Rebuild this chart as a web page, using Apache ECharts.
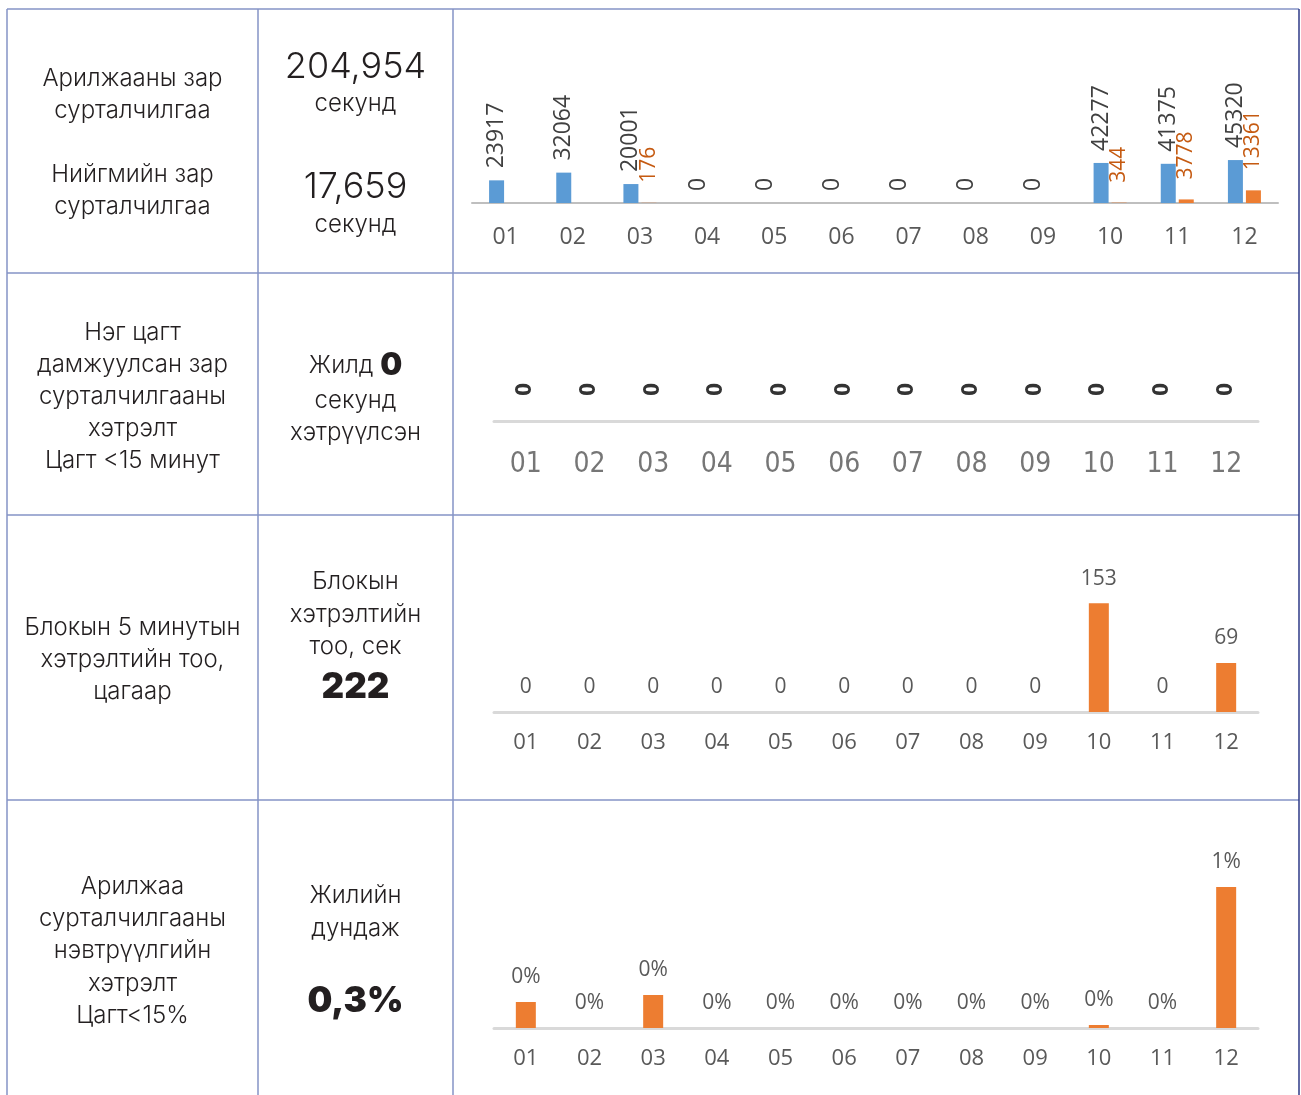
<!DOCTYPE html>
<html>
<head>
<meta charset="utf-8">
<script src="https://cdn.jsdelivr.net/npm/echarts@6/dist/echarts.min.js"></script>
<style>
  html, body { margin: 0; padding: 0; background: #ffffff; }
  #chart { width: 1301px; height: 1095px; }
</style>
</head>
<body>
<div id="chart"></div>
<script>
// ---- data ----
const months = ['01', '02', '03', '04', '05', '06', '07', '08', '09', '10', '11', '12'];
const commercialAdSec = [23917, 32064, 20001, 0, 0, 0, 0, 0, 0, 42277, 41375, 45320];
const socialAdSec = [0, 0, 176, 0, 0, 0, 0, 0, 0, 344, 3778, 13361];
const hourlyExceedSec = [0, 0, 0, 0, 0, 0, 0, 0, 0, 0, 0, 0];
const blockExceedCount = [0, 0, 0, 0, 0, 0, 0, 0, 0, 153, 0, 69];
const penetrationExceedRate = [0.0026, 0, 0.0033, 0, 0, 0, 0, 0, 0, 0.0003, 0, 0.0141];

const totalCommercial = '204,954';
const totalSocial = '17,659';
const totalBlock = '222';
const yearlyAvg = '0,3%';

// ---- styles ----
const BLUE = '#5B9BD5';
const ORANGE = '#ED7D31';
const TXT = '#231F20';
const LINE = '#8593C6';
const UI = 'Inter, "Noto Sans", sans-serif';
const XL = '"Open Sans", "Noto Sans", sans-serif';
const NARROW = '"DejaVu Sans", sans-serif';

function xAxisCfg(gi, opts) {
  return Object.assign({
    type: 'category', gridIndex: gi, data: months,
    axisTick: { show: false },
    axisLine: { lineStyle: { color: '#D9D9D9', width: 3 } },
    axisLabel: { color: '#595959', fontSize: 22, fontFamily: XL, margin: 20 }
  }, opts || {});
}
function yAxisCfg(gi, max) {
  return { type: 'value', gridIndex: gi, min: 0, max: max, show: false, splitLine: { show: false } };
}

function t(text, x, y, size, weight, extra) {
  return Object.assign({
    type: 'text',
    style: { text: text, x: x, y: y, fill: TXT, font: (weight || 300) + ' ' + size + 'px ' + UI, align: 'center', verticalAlign: 'middle' }
  }, extra || {});
}
function hl(y, x1, x2, c) { return { type: 'line', shape: { x1: x1, y1: y, x2: x2, y2: y }, style: { stroke: c || LINE, lineWidth: 1.5 } }; }
function vl(x, y1, y2, c) { return { type: 'line', shape: { x1: x, y1: y1, x2: x, y2: y2 }, style: { stroke: c || LINE, lineWidth: 1.5 } }; }

const C1 = 132.5, C2 = 355.5;
const graphics = [
  hl(9, 7, 1299), hl(273, 7, 1299), hl(515, 7, 1299), hl(800, 7, 1299),
  vl(7, 9, 1095), vl(258, 9, 1095), vl(453, 9, 1095), vl(1299, 9, 1095, '#2E3A87'),
  // row 1
  t('Арилжааны зар', C1, 79, 24), t('сурталчилгаа', C1, 111, 24),
  t('Нийгмийн зар', C1, 175, 24), t('сурталчилгаа', C1, 207, 24),
  t(totalCommercial, C2, 67, 36, 300), t('секунд', C2, 104, 24),
  t(totalSocial, C2, 187, 36, 300), t('секунд', C2, 225, 24),
  // row 2
  t('Нэг цагт', C1, 333, 24), t('дамжуулсан зар', C1, 365, 24), t('сурталчилгааны', C1, 397, 24),
  t('хэтрэлт', C1, 429, 24), t('Цагт <15 минут', C1, 461, 24),
  {
    type: 'text',
    style: {
      text: '{a|Жилд }{b|0}', x: C2, y: 366, align: 'center', verticalAlign: 'middle', fill: TXT,
      rich: {
        a: { fontSize: 24, fontFamily: UI, fontWeight: 300, fill: TXT },
        b: { fontSize: 31, fontFamily: UI, fontWeight: 900, fill: TXT }
      }
    }
  },
  t('секунд', C2, 401, 24), t('хэтрүүлсэн', C2, 433, 24),
  // row 3
  t('Блокын 5 минутын', C1, 628, 24), t('хэтрэлтийн тоо,', C1, 660, 24), t('цагаар', C1, 692, 24),
  t('Блокын', C2, 582, 24), t('хэтрэлтийн', C2, 615, 24), t('тоо, сек', C2, 647, 24),
  t(totalBlock, C2, 687, 35, 900),
  // row 4
  t('Арилжаа', C1, 887, 24), t('сурталчилгааны', C1, 919, 24), t('нэвтрүүлгийн', C1, 951, 24),
  t('хэтрэлт', C1, 984, 24), t('Цагт<15%', C1, 1016, 24),
  t('Жилийн', C2, 896, 24), t('дундаж', C2, 929, 24),
  t(yearlyAvg, C2, 1001, 35, 900)
];

const chart = echarts.init(document.getElementById('chart'), null, { renderer: 'canvas' });
chart.setOption({
  animation: false,
  backgroundColor: '#ffffff',
  grid: [
    { left: 472, top: 23, width: 806, height: 180 },
    { left: 494, top: 261, width: 764, height: 160 },
    { left: 494, top: 552, width: 764, height: 160 },
    { left: 494, top: 868, width: 764, height: 160 }
  ],
  xAxis: [
    xAxisCfg(0, { axisLine: { lineStyle: { color: '#BFBFBF', width: 2 } }, axisLabel: { color: '#595959', fontSize: 23, fontFamily: XL, margin: 23 } }),
    xAxisCfg(1, { axisLabel: { color: '#767676', fontSize: 28, fontStyle: 'condensed', fontFamily: NARROW, margin: 30 } }),
    xAxisCfg(2),
    xAxisCfg(3)
  ],
  yAxis: [yAxisCfg(0, 190000), yAxisCfg(1, 1), yAxisCfg(2, 225), yAxisCfg(3, 0.016)],
  series: [
    {
      name: 'Арилжааны зар сурталчилгаа', type: 'bar', xAxisIndex: 0, yAxisIndex: 0,
      data: commercialAdSec, barWidth: 15, barGap: '20%',
      itemStyle: { color: BLUE },
      label: { show: true, position: 'top', rotate: 90, align: 'left', verticalAlign: 'middle', distance: 12,
        color: '#404040', fontSize: 23, fontFamily: XL }
    },
    {
      name: 'Нийгмийн зар сурталчилгаа', type: 'bar', xAxisIndex: 0, yAxisIndex: 0,
      data: socialAdSec, barWidth: 15, barGap: '20%',
      itemStyle: { color: ORANGE },
      label: { show: true, position: 'top', rotate: 90, align: 'left', verticalAlign: 'middle', distance: 20,
        color: '#C55A11', fontSize: 21, fontFamily: XL,
        formatter: function (p) { return p.value === 0 ? '' : String(p.value); } }
    },
    {
      name: 'Нэг цагт хэтрэлт', type: 'bar', xAxisIndex: 1, yAxisIndex: 1,
      data: hourlyExceedSec, barWidth: 20, itemStyle: { color: ORANGE },
      label: { show: true, position: 'top', rotate: 90, align: 'left', verticalAlign: 'middle', distance: 25,
        color: '#333333', fontSize: 21, fontWeight: 'bold', fontStyle: 'condensed', fontFamily: NARROW }
    },
    {
      name: 'Блокын хэтрэлт', type: 'bar', xAxisIndex: 2, yAxisIndex: 2,
      data: blockExceedCount, barWidth: 20, itemStyle: { color: ORANGE },
      label: { show: true, position: 'top', distance: 14, color: '#595959', fontSize: 21, fontFamily: XL }
    },
    {
      name: 'Нэвтрүүлгийн хэтрэлт', type: 'bar', xAxisIndex: 3, yAxisIndex: 3,
      data: penetrationExceedRate, barWidth: 20, itemStyle: { color: ORANGE },
      label: { show: true, position: 'top', distance: 14, color: '#595959', fontSize: 21, fontFamily: XL,
        formatter: function (p) { return Math.round(p.value * 100) + '%'; } }
    }
  ],
  graphic: graphics
});
</script>
</body>
</html>
